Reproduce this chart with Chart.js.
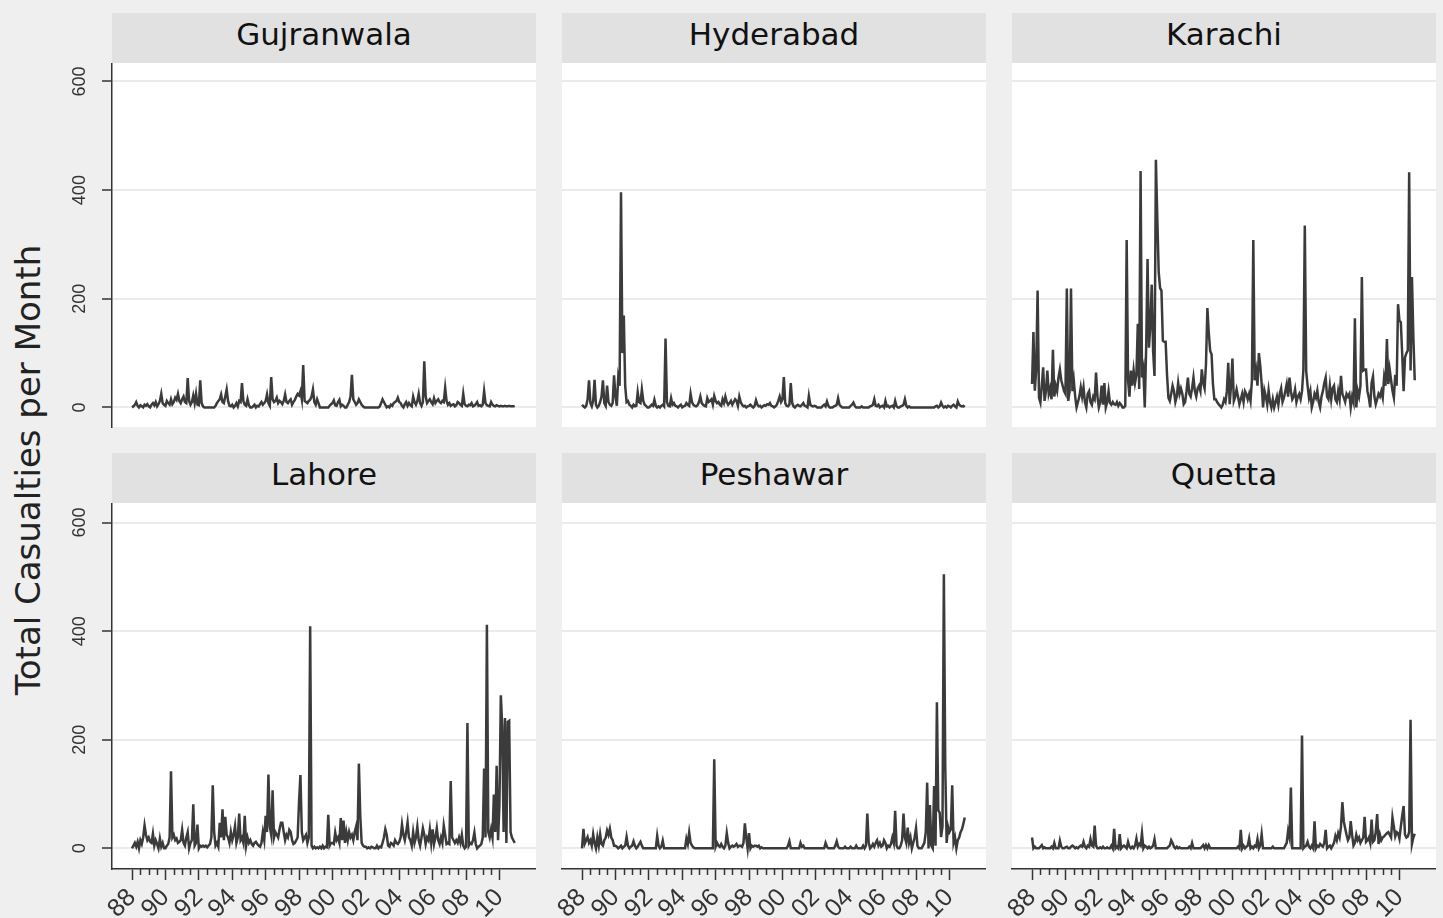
<!DOCTYPE html>
<html><head><meta charset="utf-8">
<script src="https://cdn.jsdelivr.net/npm/chart.js@4.4.1/dist/chart.umd.min.js"></script>
<style>
html,body{margin:0;padding:0;background:#efefef;width:1443px;height:918px;overflow:hidden;}
.hdr{position:absolute;background:#e1e1e1;color:#111;font-family:"DejaVu Sans",sans-serif;font-size:31px;text-align:center;line-height:42px;height:50px;}
canvas{position:absolute;}
#ytitle{position:absolute;left:28px;top:470px;font-family:"DejaVu Sans",sans-serif;font-size:34px;color:#222;white-space:nowrap;transform:translate(-50%,-50%) rotate(-90deg);}
</style></head><body>
<div id="ytitle">Total Casualties per Month</div>
<script>
// ---- data: monthly totals, Jan 1988 .. Dec 2010 (one row per year) ----
const firstYear = 1988;
const lastYear = 2010;
const cities = ["Gujranwala","Hyderabad","Karachi","Lahore","Peshawar","Quetta"];

const gujranwala = [
0,2,5,10,3,0,4,2,0,5,3,6,
2,0,5,8,4,10,2,6,12,25,8,5,
3,12,8,5,15,6,10,18,14,25,12,8,
15,20,10,8,54,12,5,10,22,8,25,5,
4,50,8,2,0,0,0,0,0,0,0,0,
3,8,12,15,24,10,8,20,33,12,3,2,
5,0,3,8,2,12,10,45,12,5,3,15,
4,0,0,2,5,0,3,2,6,10,5,8,
12,24,8,3,56,15,10,12,18,8,12,10,
6,12,24,10,8,12,15,5,10,14,20,25,
22,30,15,78,12,10,8,12,14,20,33,10,
5,15,8,0,0,0,0,0,0,0,3,6,
8,13,4,3,10,14,2,5,3,0,0,5,
10,20,60,15,10,5,8,15,10,5,2,0,
0,0,0,0,0,0,0,0,0,0,2,8,
15,10,5,0,2,0,5,3,8,10,12,18,
10,8,3,0,6,10,3,8,4,2,20,10,
5,12,25,8,3,10,85,20,8,12,15,10,
6,17,8,12,15,10,8,12,10,36,12,5,
8,3,5,6,2,4,10,8,5,3,25,6,
3,2,5,4,8,2,3,6,10,3,4,2,
5,30,8,4,3,2,10,5,3,2,4,3,
2,3,2,2,3,2,2,3,2,2,2,3];

const hyderabad = [
5,2,0,3,15,50,8,2,12,51,5,0,
3,10,20,50,8,3,40,10,5,3,8,59,
20,3,55,40,396,100,169,40,10,12,5,3,
0,5,2,3,28,10,8,33,12,5,3,0,
0,2,5,3,14,3,0,2,0,3,5,2,
127,10,3,2,17,5,8,3,2,0,3,5,
0,2,3,8,5,3,25,10,5,3,2,4,
10,20,8,5,3,2,17,10,12,15,5,21,
12,8,10,5,3,15,8,20,10,5,8,12,
5,10,15,12,3,20,10,5,2,3,0,2,
3,5,2,0,3,13,5,2,3,0,2,4,
3,6,5,8,3,2,0,2,5,12,20,10,
15,56,8,3,2,5,45,8,2,0,3,5,
3,2,5,8,3,2,0,21,5,3,2,3,
2,0,0,0,0,3,5,2,11,3,0,0,
0,2,3,5,17,5,2,0,0,0,0,0,
0,3,5,9,3,0,0,0,0,2,0,0,
0,0,0,2,3,5,15,3,2,5,0,2,
3,0,12,2,3,0,2,3,0,12,2,0,
0,2,3,5,15,3,0,2,0,0,0,0,
0,0,0,0,0,0,0,0,0,0,0,0,
0,0,2,3,0,2,9,3,0,2,0,3,
2,0,3,5,2,0,11,5,3,2,3,1];

const karachi = [
43,139,31,70,215,18,9,40,74,12,30,68,
25,35,15,106,20,40,30,55,70,50,40,30,
25,219,12,30,219,30,50,20,0,10,20,37,
20,37,10,0,25,30,10,5,20,15,64,20,
0,10,40,5,45,0,10,30,8,5,10,6,
5,10,3,8,5,0,0,3,308,50,20,68,
40,68,45,60,154,34,435,55,70,0,110,273,
110,150,226,104,58,456,350,250,220,215,123,121,
121,60,18,12,25,40,30,10,20,45,25,35,
25,6,10,30,55,25,20,35,55,30,20,35,
40,30,70,45,35,80,183,138,104,98,43,15,
15,10,6,3,0,5,15,10,30,82,6,40,
90,12,20,33,20,6,15,25,10,30,25,15,
25,12,50,308,50,68,40,100,77,43,0,31,
20,5,31,10,0,15,0,10,20,5,25,35,
10,18,30,43,20,55,30,15,20,33,10,20,
25,15,30,70,335,67,40,18,30,0,10,25,
18,31,10,0,20,30,45,55,20,15,40,15,
35,40,15,10,30,15,58,25,18,10,25,20,
25,0,20,10,164,0,31,20,40,240,68,70,
70,30,18,0,45,57,20,6,15,25,20,30,
18,55,40,126,43,70,50,31,18,60,40,190,
160,157,98,30,92,100,105,433,68,240,130,50];

const lahore = [
0,5,10,3,12,0,15,8,20,42,25,15,
20,12,10,27,5,15,8,0,18,3,10,0,
0,5,8,20,142,20,25,15,18,10,12,15,
34,10,5,20,30,0,10,15,81,5,10,44,
0,5,3,5,3,5,2,5,8,20,116,30,
5,10,3,47,20,72,15,58,25,20,10,30,
15,25,41,10,20,64,15,20,10,60,5,20,
10,15,8,5,10,12,8,5,3,10,30,15,
60,30,136,40,25,107,20,30,25,20,35,47,
47,30,15,25,20,34,30,15,8,10,15,20,
86,135,30,15,20,25,10,20,409,5,0,3,
0,2,0,3,0,5,0,3,2,62,5,10,
10,8,29,15,20,10,56,15,51,10,30,15,
30,20,25,15,30,40,15,156,60,10,5,3,
3,0,2,0,3,2,0,0,5,0,3,2,
10,20,35,25,5,3,10,8,5,15,10,8,
12,20,44,25,15,30,48,20,15,5,30,10,
20,40,15,5,20,37,25,8,20,15,35,10,
35,8,20,37,15,8,20,10,42,25,8,10,
8,124,20,15,10,15,10,20,10,25,5,0,
3,231,5,10,8,15,29,8,0,3,5,8,
20,147,20,412,30,20,35,20,99,30,152,15,
80,282,225,30,240,10,233,235,30,20,15,10];

const peshawar = [
0,36,9,15,21,10,15,5,26,10,0,20,
5,26,8,5,15,20,33,25,36,20,15,5,
5,3,0,2,5,0,3,5,21,5,0,3,
5,13,5,0,3,8,12,5,0,0,0,0,
0,0,0,0,0,0,23,5,0,3,14,0,
0,0,0,0,0,0,0,0,0,0,0,0,
0,0,0,18,8,29,10,5,2,0,0,0,
0,0,0,0,0,0,0,0,0,0,0,164,
3,10,5,3,8,3,0,5,28,10,0,3,
5,3,5,8,3,5,5,3,10,46,20,0,
28,0,5,3,5,5,3,5,0,2,0,0,
0,0,0,0,0,0,0,0,0,0,0,0,
0,0,0,0,5,13,0,0,0,0,0,0,
0,10,3,5,0,0,0,0,0,0,0,0,
0,0,0,0,0,0,0,10,3,0,0,0,
0,0,5,13,3,0,0,0,0,3,0,0,
0,3,0,0,0,5,0,0,0,0,5,0,
5,64,10,0,3,8,3,10,15,5,10,3,
5,15,10,0,5,3,8,20,10,69,5,0,
0,5,15,64,20,10,38,10,20,0,10,20,
37,5,0,0,0,5,10,30,121,0,80,5,
0,115,5,269,70,66,21,40,505,150,10,40,
30,35,116,10,20,0,15,20,30,35,45,57];

const quetta = [
20,0,3,0,0,0,3,6,0,2,0,0,
0,0,3,0,10,0,0,0,14,3,0,0,
2,3,0,0,3,5,3,0,2,0,3,5,
3,12,3,0,5,3,17,5,3,42,5,0,
0,2,0,3,0,0,2,0,0,5,0,36,
0,3,0,26,0,3,5,3,0,12,3,0,
3,0,5,18,3,8,5,28,0,5,3,0,
3,0,2,5,17,0,0,0,0,0,0,0,
0,0,3,5,15,10,3,0,3,0,2,0,
0,0,0,0,0,3,0,10,0,0,0,0,
0,0,3,6,0,6,0,6,0,0,0,0,
0,0,0,0,0,0,0,0,0,0,0,0,
0,0,0,0,3,0,34,0,5,0,3,5,
18,0,3,0,5,3,17,0,5,26,0,0,
0,0,0,0,0,3,0,0,0,0,0,0,
0,0,5,10,32,20,112,0,0,0,0,0,
0,0,208,0,3,5,12,3,0,5,0,50,
0,5,3,8,5,3,10,34,0,3,5,0,
5,10,23,15,28,20,40,85,50,37,25,15,
20,50,25,5,10,25,15,20,10,15,20,58,
12,15,20,10,53,12,15,30,63,8,25,15,
20,22,25,28,30,25,20,57,40,22,30,28,
18,40,60,78,25,20,22,30,237,8,20,27];

const yTicks = [0,200,400,600];
const xTickYears = [1988,1990,1992,1994,1996,1998,2000,2002,2004,2006,2008,2010];
const xTickLabels = ["88","90","92","94","96","98","00","02","04","06","08","10"];
const minorTickYears = [];
xTickYears.slice(0, -1).forEach(function(y){ [0.5,1,1.5].forEach(function(d){ minorTickYears.push(y+d); }); });

const series = [gujranwala, hyderabad, karachi, lahore, peshawar, quetta];

// ---- layout ----
const colLeft = [112, 562, 1012];
const rowTop = [63, 503];
const rowH = [364, 366];
const plotW = 424;
const hdrH = 50;
const AX = 60;
const xMin = 1986.8, xMax = 2012.19;
const yRange = [[-36, 634], [-38, 636]];

const whiteArea = {
  id: 'whiteArea',
  beforeDraw(c) {
    const a = c.chartArea, ctx = c.ctx;
    ctx.save(); ctx.fillStyle = '#ffffff';
    ctx.fillRect(a.left, a.top, a.right - a.left, a.bottom - a.top);
    ctx.restore();
  }
};
const minorTicks = {
  id: 'minorTicks',
  afterDraw(c, args, opts) {
    if (!opts.show) return;
    const s = c.scales.x, ctx = c.ctx, y = c.chartArea.bottom;
    ctx.save(); ctx.strokeStyle = '#333'; ctx.lineWidth = 1.5;
    minorTickYears.forEach(function(v){
      const px = Math.round(s.getPixelForValue(v)) + 0.5;
      ctx.beginPath(); ctx.moveTo(px, y); ctx.lineTo(px, y + 6); ctx.stroke();
    });
    ctx.restore();
  }
};

cities.forEach(function(name, k) {
  const row = Math.floor(k / 3), col = k % 3;
  const left = colLeft[col], top = rowTop[row], h = rowH[row];

  const hdr = document.createElement('div');
  hdr.className = 'hdr';
  hdr.style.left = left + 'px';
  hdr.style.top = (top - hdrH) + 'px';
  hdr.style.width = plotW + 'px';
  hdr.textContent = name;
  document.body.appendChild(hdr);

  const cv = document.createElement('canvas');
  cv.width = plotW + AX; cv.height = h + AX;
  cv.style.left = (left - AX) + 'px';
  cv.style.top = top + 'px';
  cv.style.width = (plotW + AX) + 'px';
  cv.style.height = (h + AX) + 'px';
  document.body.appendChild(cv);

  const pts = series[k].map(function(v, i){ return {x: firstYear + i / 12, y: v}; });
  const isBottom = row === 1, isLeft = col === 0;

  new Chart(cv, {
    type: 'line',
    data: { datasets: [{ data: pts, borderColor: '#3b3b3b', borderWidth: 2.5, pointRadius: 0, tension: 0, fill: false }] },
    plugins: [whiteArea, minorTicks],
    options: {
      responsive: false, animation: false, devicePixelRatio: 1,
      layout: { padding: 0 },
      plugins: { legend: { display: false }, tooltip: { enabled: false }, minorTicks: { show: isBottom } },
      scales: {
        x: {
          type: 'linear', position: 'bottom', min: xMin, max: xMax,
          afterFit(s) { s.height = AX; s.paddingLeft = 0; s.paddingRight = 0; },
          afterBuildTicks(s) { s.ticks = xTickYears.map(function(v){ return {value: v}; }); },
          grid: { display: isBottom, drawOnChartArea: false, drawTicks: true, tickLength: 11, tickColor: '#333', tickWidth: 1.5 },
          border: { display: isBottom, color: '#333', width: 1.5 },
          ticks: {
            display: isBottom, autoSkip: false, minRotation: 45, maxRotation: 45, padding: 3,
            color: '#333', font: { family: 'Liberation Sans', size: 25 },
            callback: function(v) { const j = xTickYears.indexOf(v); return j >= 0 ? xTickLabels[j] : ''; }
          }
        },
        y: {
          type: 'linear', position: 'left', min: yRange[row][0], max: yRange[row][1],
          afterFit(s) { s.width = AX; s.paddingTop = 0; s.paddingBottom = 0; },
          afterBuildTicks(s) { s.ticks = yTicks.map(function(v){ return {value: v}; }); },
          grid: { color: '#ebebeb', lineWidth: 2, drawTicks: isLeft, tickLength: 10, tickColor: '#333', tickWidth: 1.5 },
          border: { display: isLeft, color: '#333', width: 1.5 },
          ticks: {
            display: isLeft, minRotation: 90, maxRotation: 90, crossAlign: 'center', padding: 7,
            color: '#333', font: { family: 'Liberation Sans', size: 18 }
          }
        }
      }
    }
  });
});
</script>
</body></html>
